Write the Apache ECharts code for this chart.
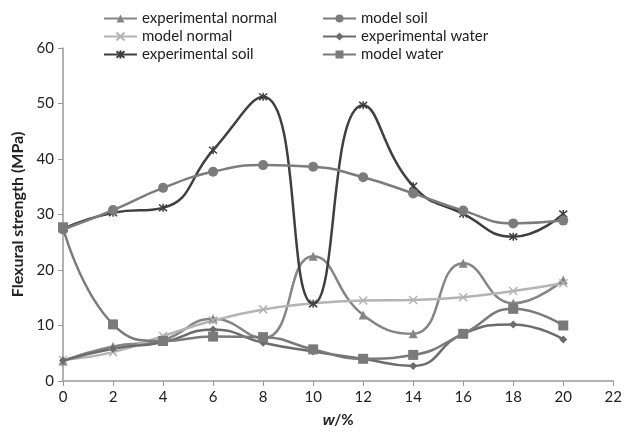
<!DOCTYPE html>
<html lang="en">
<head>
    <meta charset="UTF-8">
    <title>Flexural strength</title>
    <script src="https://cdn.jsdelivr.net/npm/echarts@6/dist/echarts.min.js"></script>
</head>
<body style="margin:0">
<div id="main" style="width:625px;height:436px;"></div>
<script>
    var w = [0, 2, 4, 6, 8, 10, 12, 14, 16, 18, 20];
    var expNormal = [3.6, 6.2, 7.4, 11.2, 7.7, 22.5, 11.9, 8.5, 21.2, 14.0, 18.2];
    var modelNormal = [3.8, 5.2, 8.1, 10.9, 12.9, 14.0, 14.5, 14.6, 15.1, 16.2, 17.6];
    var expSoil = [27.4, 30.3, 31.2, 41.6, 51.2, 13.9, 49.7, 35.1, 30.1, 26.0, 30.1];
    var modelSoil = [27.3, 30.8, 34.8, 37.7, 38.9, 38.6, 36.7, 33.8, 30.7, 28.4, 28.9];
    var expWater = [3.7, 5.8, 7.0, 9.3, 6.9, 5.3, 4.0, 2.7, 8.5, 10.2, 7.5];
    var modelWater = [27.7, 10.2, 7.2, 8.0, 7.9, 5.7, 4.0, 4.7, 8.5, 13.0, 10.0];

    var myChart = echarts.init(document.getElementById('main'));
    var font = 'Lato, "Open Sans", sans-serif';

    function pairs(arr) {
        return arr.map(function (v, i) { return [w[i], v]; });
    }
    function line(name, arr, color, symbol, size, stroke) {
        return {
            name: name,
            type: 'line',
            smooth: 0.5,
            data: pairs(arr),
            symbol: symbol,
            symbolSize: size,
            showAllSymbol: true,
            lineStyle: {color: color, width: 2.5},
            itemStyle: stroke ? {color: 'none', borderColor: color, borderWidth: 1.5} : {color: color},
            emphasis: {disabled: true}
        };
    }

    var xPath = 'path://M0,0L10,10M10,0L0,10';
    var starPath = 'path://M0,0L10,10M10,0L0,10M5,-1L5,11';

    var legendText = {fontFamily: font, fontSize: 15, color: '#222'};

    var option = {
        animation: false,
        grid: {left: 63, right: 8, top: 48, bottom: 55},
        legend: [
            {
                orient: 'vertical', left: 98, top: 6, itemGap: 3,
                itemWidth: 33, itemHeight: 10, textStyle: legendText,
                data: ['experimental normal', 'model normal', 'experimental soil']
            },
            {
                orient: 'vertical', left: 317, top: 6, itemGap: 3,
                itemWidth: 33, itemHeight: 10, textStyle: legendText,
                data: ['model soil', 'experimental water', 'model water']
            }
        ],
        xAxis: {
            type: 'value', min: 0, max: 22, interval: 2,
            name: '{i|w}{n|/%}', nameLocation: 'middle', nameGap: 32,
            nameTextStyle: {
                rich: {
                    i: {fontFamily: '"Liberation Sans", sans-serif', fontSize: 15, fontWeight: 'bold', fontStyle: 'italic', color: '#222'},
                    n: {fontFamily: font, fontSize: 15, fontWeight: 'bold', color: '#222'}
                }
            },
            axisLine: {lineStyle: {color: '#999', width: 1.5}},
            axisTick: {show: true, length: 5, lineStyle: {color: '#999'}},
            axisLabel: {fontFamily: font, fontSize: 15, color: '#222', margin: 9},
            splitLine: {show: false}
        },
        yAxis: {
            type: 'value', min: 0, max: 60, interval: 10,
            name: 'Flexural strength (MPa)', nameLocation: 'middle', nameGap: 33,
            nameTextStyle: {fontFamily: font, fontSize: 16, fontWeight: 'bold', color: '#222'},
            axisLine: {show: true, lineStyle: {color: '#999', width: 1.5}},
            axisTick: {show: true, length: 5, lineStyle: {color: '#999'}},
            axisLabel: {fontFamily: font, fontSize: 15, color: '#222', margin: 9},
            splitLine: {show: false}
        },
        series: [
            line('experimental normal', expNormal, '#858585', 'triangle', 9),
            line('model normal', modelNormal, '#b4b4b4', xPath, 8, true),
            line('experimental soil', expSoil, '#3f3f3f', starPath, 8, true),
            line('model soil', modelSoil, '#7c7c7c', 'circle', 10),
            line('experimental water', expWater, '#6c6c6c', 'diamond', 8),
            line('model water', modelWater, '#7a7a7a', 'rect', 10)
        ]
    };
    myChart.setOption(option);
</script>
</body>
</html>
